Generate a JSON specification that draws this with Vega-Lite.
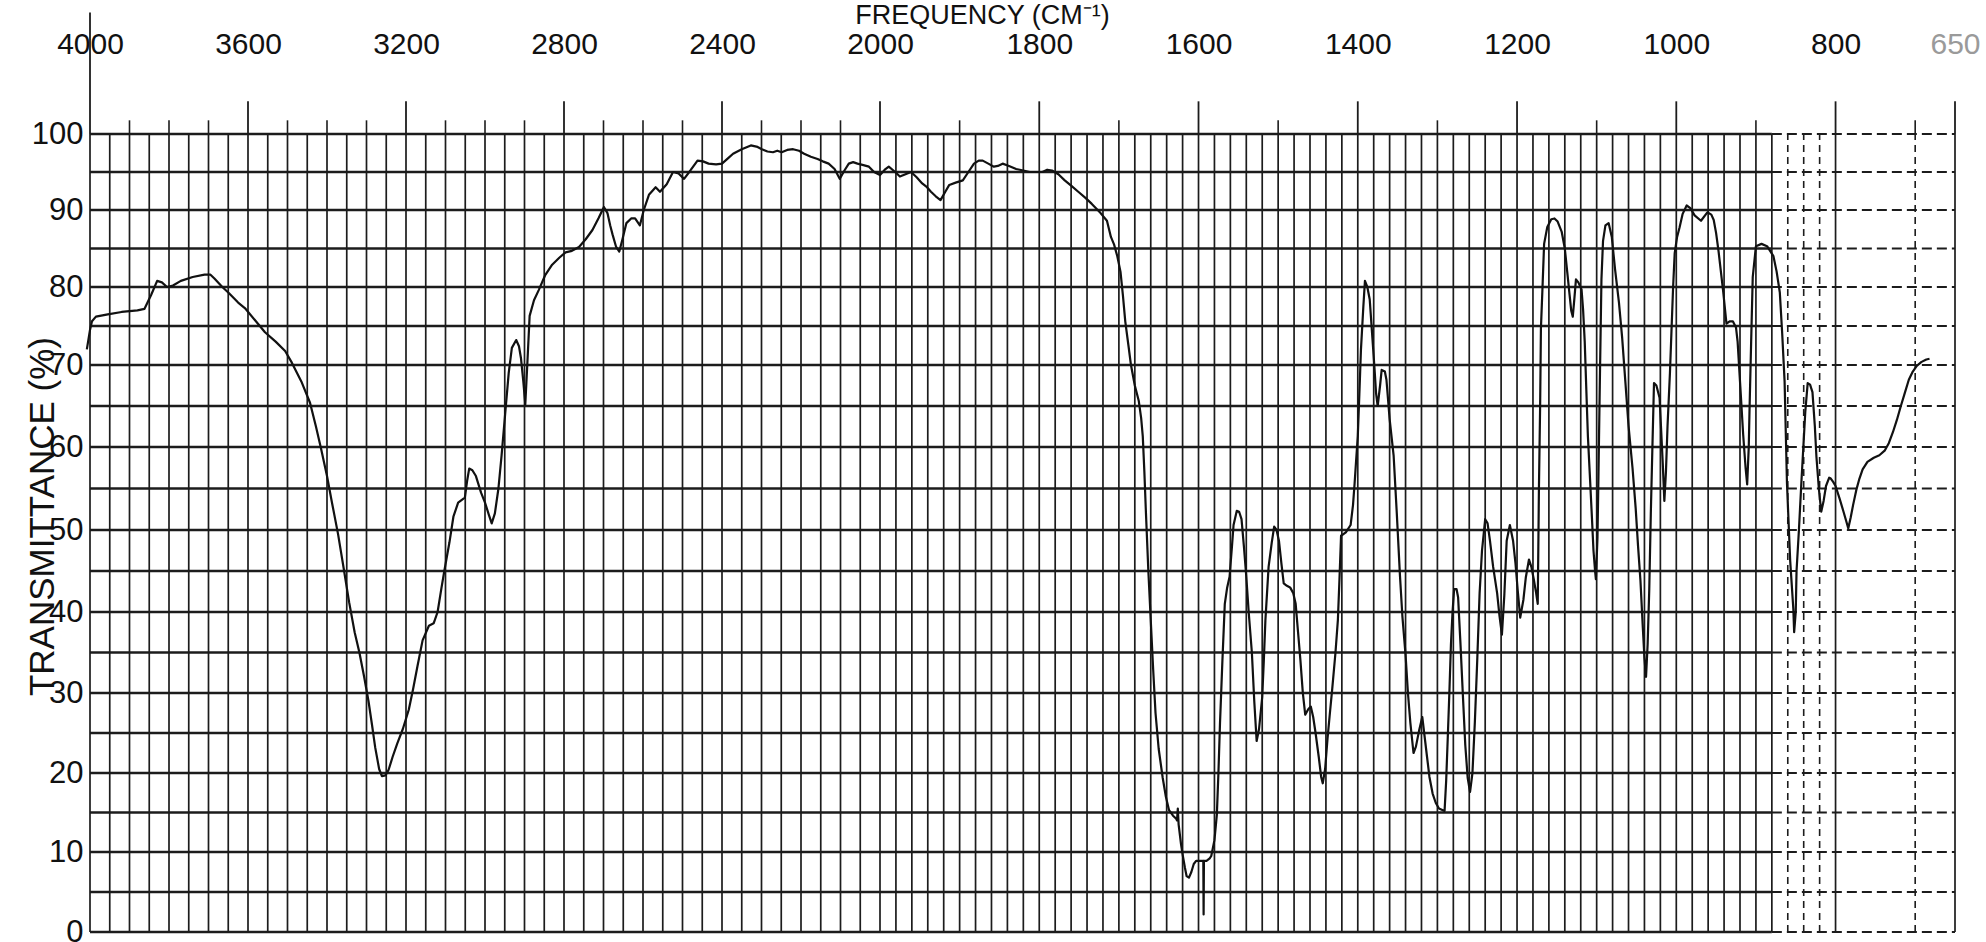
{
  "$schema": "https://vega.github.io/schema/vega-lite/v6.json",
  "width": 1865,
  "height": 798,
  "autosize": {"type": "none"},
  "padding": {"left": 90, "top": 134, "right": 31, "bottom": 10},
  "background": "white",
  "config": {
    "view": {"stroke": null},
    "font": "Liberation Sans",
    "axisX": {
      "orient": "top", "domain": false, "ticks": false, "grid": false, "format": "d",
      "labelPadding": 75, "labelFontSize": 30, "labelFont": "Liberation Sans", "labelFlush": false, "labelOverlap": false,
      "titleFont": "Liberation Sans", "titleFontSize": 27, "titleFontWeight": "normal", "titleColor": "#111111",
      "titleX": 892, "titleY": -119, "titleBaseline": "middle", "titleAlign": "center"
    },
    "axisY": {
      "orient": "left", "domain": false, "ticks": false, "grid": false, "format": "d",
      "labelPadding": 7, "labelFontSize": 31, "labelFont": "Liberation Sans", "labelColor": "#111111",
      "labelFlush": false, "labelOverlap": false,
      "titleFont": "Liberation Sans", "titleFontSize": 35, "titleFontWeight": "normal", "titleColor": "#111111",
      "titleX": -48, "titleY": 382, "titleAngle": -90, "titleBaseline": "middle", "titleAlign": "center"
    }
  },
  "datasets": {
    "hgrid": [
      {"t": 0}, {"t": 5}, {"t": 10}, {"t": 15}, {"t": 20}, {"t": 25}, {"t": 30}, {"t": 35}, {"t": 40}, {"t": 45}, {"t": 50},
      {"t": 55}, {"t": 60}, {"t": 65}, {"t": 70}, {"t": 75}, {"t": 80}, {"t": 85}, {"t": 90}, {"t": 95}, {"t": 100}
    ],
    "vgrid": [
      {"f": 4000}, {"f": 3950}, {"f": 3900}, {"f": 3850}, {"f": 3800}, {"f": 3750}, {"f": 3700}, {"f": 3650}, {"f": 3600}, {"f": 3550},
      {"f": 3500}, {"f": 3450}, {"f": 3400}, {"f": 3350}, {"f": 3300}, {"f": 3250}, {"f": 3200}, {"f": 3150}, {"f": 3100}, {"f": 3050},
      {"f": 3000}, {"f": 2950}, {"f": 2900}, {"f": 2850}, {"f": 2800}, {"f": 2750}, {"f": 2700}, {"f": 2650}, {"f": 2600}, {"f": 2550},
      {"f": 2500}, {"f": 2450}, {"f": 2400}, {"f": 2350}, {"f": 2300}, {"f": 2250}, {"f": 2200}, {"f": 2150}, {"f": 2100}, {"f": 2050},
      {"f": 2000}, {"f": 1980}, {"f": 1960}, {"f": 1940}, {"f": 1920}, {"f": 1900}, {"f": 1880}, {"f": 1860}, {"f": 1840}, {"f": 1820},
      {"f": 1800}, {"f": 1780}, {"f": 1760}, {"f": 1740}, {"f": 1720}, {"f": 1700}, {"f": 1680}, {"f": 1660}, {"f": 1640}, {"f": 1620},
      {"f": 1600}, {"f": 1580}, {"f": 1560}, {"f": 1540}, {"f": 1520}, {"f": 1500}, {"f": 1480}, {"f": 1460}, {"f": 1440}, {"f": 1420},
      {"f": 1400}, {"f": 1380}, {"f": 1360}, {"f": 1340}, {"f": 1320}, {"f": 1300}, {"f": 1280}, {"f": 1260}, {"f": 1240}, {"f": 1220},
      {"f": 1200}, {"f": 1180}, {"f": 1160}, {"f": 1140}, {"f": 1120}, {"f": 1100}, {"f": 1080}, {"f": 1060}, {"f": 1040}, {"f": 1020},
      {"f": 1000}, {"f": 980}, {"f": 960}, {"f": 940}, {"f": 920}, {"f": 900}, {"f": 880}, {"f": 860}, {"f": 840}, {"f": 820},
      {"f": 800}, {"f": 700}, {"f": 650}
    ],
    "ticks": [
      {"f": 4000}, {"f": 3900}, {"f": 3800}, {"f": 3700}, {"f": 3600}, {"f": 3500}, {"f": 3400}, {"f": 3300}, {"f": 3200}, {"f": 3100},
      {"f": 3000}, {"f": 2900}, {"f": 2800}, {"f": 2700}, {"f": 2600}, {"f": 2500}, {"f": 2400}, {"f": 2300}, {"f": 2200}, {"f": 2100},
      {"f": 2000}, {"f": 1900}, {"f": 1800}, {"f": 1700}, {"f": 1600}, {"f": 1500}, {"f": 1400}, {"f": 1300}, {"f": 1200}, {"f": 1100},
      {"f": 1000}, {"f": 900}, {"f": 800}, {"f": 700}, {"f": 650}
    ],
    "spectrum": [
      {"f": 4008, "t": 72}, {"f": 4000, "t": 74.5}, {"f": 3995, "t": 75.6}, {"f": 3985, "t": 76.2}, {"f": 3955, "t": 76.5},
      {"f": 3920, "t": 76.8}, {"f": 3880, "t": 77}, {"f": 3862, "t": 77.2}, {"f": 3845, "t": 79}, {"f": 3830, "t": 80.8},
      {"f": 3818, "t": 80.6}, {"f": 3805, "t": 80}, {"f": 3790, "t": 80.2}, {"f": 3770, "t": 80.8}, {"f": 3740, "t": 81.3},
      {"f": 3710, "t": 81.6}, {"f": 3695, "t": 81.6}, {"f": 3685, "t": 81.1}, {"f": 3665, "t": 80}, {"f": 3648, "t": 79.2},
      {"f": 3625, "t": 78}, {"f": 3608, "t": 77.3}, {"f": 3580, "t": 75.6}, {"f": 3557, "t": 74.2}, {"f": 3530, "t": 73},
      {"f": 3506, "t": 71.8}, {"f": 3489, "t": 70.3}, {"f": 3465, "t": 68}, {"f": 3443, "t": 65.4}, {"f": 3428, "t": 62.5},
      {"f": 3415, "t": 59.8}, {"f": 3400, "t": 56.5}, {"f": 3387, "t": 53.2}, {"f": 3372, "t": 49.5}, {"f": 3358, "t": 45.4},
      {"f": 3344, "t": 41.2}, {"f": 3330, "t": 37.5}, {"f": 3318, "t": 35}, {"f": 3306, "t": 32}, {"f": 3295, "t": 29},
      {"f": 3286, "t": 26}, {"f": 3278, "t": 23.2}, {"f": 3268, "t": 20.5}, {"f": 3261, "t": 19.6}, {"f": 3252, "t": 19.7},
      {"f": 3244, "t": 20.4}, {"f": 3234, "t": 22}, {"f": 3222, "t": 23.7}, {"f": 3208, "t": 25.5}, {"f": 3193, "t": 27.9},
      {"f": 3182, "t": 30.5}, {"f": 3171, "t": 33.3}, {"f": 3158, "t": 36.5}, {"f": 3142, "t": 38.3}, {"f": 3130, "t": 38.6},
      {"f": 3120, "t": 40}, {"f": 3110, "t": 43}, {"f": 3103, "t": 45}, {"f": 3090, "t": 48.5}, {"f": 3080, "t": 51.6},
      {"f": 3068, "t": 53.3}, {"f": 3051, "t": 53.9}, {"f": 3045, "t": 56}, {"f": 3040, "t": 57.4}, {"f": 3032, "t": 57.2},
      {"f": 3023, "t": 56.5}, {"f": 3010, "t": 54.5}, {"f": 3000, "t": 53.3}, {"f": 2990, "t": 51.8}, {"f": 2983, "t": 50.8},
      {"f": 2975, "t": 52}, {"f": 2966, "t": 55}, {"f": 2958, "t": 59}, {"f": 2949, "t": 64}, {"f": 2940, "t": 69},
      {"f": 2932, "t": 72.2}, {"f": 2921, "t": 73.2}, {"f": 2914, "t": 72.4}, {"f": 2909, "t": 70.9}, {"f": 2903, "t": 68},
      {"f": 2898, "t": 65.2}, {"f": 2893, "t": 70}, {"f": 2887, "t": 76.3}, {"f": 2876, "t": 78.3}, {"f": 2864, "t": 79.6},
      {"f": 2848, "t": 81.5}, {"f": 2830, "t": 82.9}, {"f": 2812, "t": 83.8}, {"f": 2796, "t": 84.5}, {"f": 2780, "t": 84.7},
      {"f": 2762, "t": 85.2}, {"f": 2745, "t": 86.2}, {"f": 2728, "t": 87.4}, {"f": 2712, "t": 89}, {"f": 2699, "t": 90.4},
      {"f": 2690, "t": 89.6}, {"f": 2683, "t": 88}, {"f": 2677, "t": 86.8}, {"f": 2668, "t": 85.2}, {"f": 2660, "t": 84.6},
      {"f": 2652, "t": 86.2}, {"f": 2642, "t": 88.3}, {"f": 2630, "t": 88.9}, {"f": 2620, "t": 88.9}, {"f": 2608, "t": 88},
      {"f": 2598, "t": 90}, {"f": 2585, "t": 92}, {"f": 2568, "t": 93}, {"f": 2557, "t": 92.4}, {"f": 2540, "t": 93.4},
      {"f": 2524, "t": 95}, {"f": 2510, "t": 94.8}, {"f": 2496, "t": 94.1}, {"f": 2480, "t": 95.2}, {"f": 2462, "t": 96.5},
      {"f": 2448, "t": 96.4}, {"f": 2434, "t": 96.1}, {"f": 2415, "t": 96}, {"f": 2400, "t": 96.1}, {"f": 2385, "t": 96.8},
      {"f": 2372, "t": 97.4}, {"f": 2350, "t": 98}, {"f": 2327, "t": 98.5}, {"f": 2310, "t": 98.3}, {"f": 2299, "t": 98},
      {"f": 2285, "t": 97.7}, {"f": 2271, "t": 97.6}, {"f": 2260, "t": 97.8}, {"f": 2249, "t": 97.6}, {"f": 2235, "t": 97.9},
      {"f": 2220, "t": 98}, {"f": 2205, "t": 97.8}, {"f": 2192, "t": 97.4}, {"f": 2175, "t": 97}, {"f": 2158, "t": 96.7},
      {"f": 2145, "t": 96.4}, {"f": 2130, "t": 96.1}, {"f": 2115, "t": 95.4}, {"f": 2102, "t": 94.1}, {"f": 2090, "t": 95.2},
      {"f": 2079, "t": 96.1}, {"f": 2068, "t": 96.3}, {"f": 2057, "t": 96.1}, {"f": 2042, "t": 95.9}, {"f": 2028, "t": 95.7},
      {"f": 2015, "t": 95}, {"f": 2000, "t": 94.6}, {"f": 1994, "t": 95.3}, {"f": 1989, "t": 95.7}, {"f": 1982, "t": 95.1},
      {"f": 1975, "t": 94.4}, {"f": 1968, "t": 94.7}, {"f": 1961, "t": 95}, {"f": 1954, "t": 94.3}, {"f": 1947, "t": 93.5},
      {"f": 1941, "t": 93}, {"f": 1936, "t": 92.4}, {"f": 1930, "t": 91.8}, {"f": 1924, "t": 91.3}, {"f": 1918, "t": 92.4},
      {"f": 1913, "t": 93.3}, {"f": 1905, "t": 93.6}, {"f": 1896, "t": 93.9}, {"f": 1889, "t": 95}, {"f": 1882, "t": 96.1},
      {"f": 1876, "t": 96.5}, {"f": 1871, "t": 96.5}, {"f": 1864, "t": 96.1}, {"f": 1857, "t": 95.7}, {"f": 1852, "t": 95.8},
      {"f": 1846, "t": 96.1}, {"f": 1838, "t": 95.8}, {"f": 1829, "t": 95.4}, {"f": 1820, "t": 95.2}, {"f": 1812, "t": 95},
      {"f": 1804, "t": 95}, {"f": 1796, "t": 95}, {"f": 1790, "t": 95.3}, {"f": 1784, "t": 95.2}, {"f": 1776, "t": 94.7},
      {"f": 1768, "t": 93.9}, {"f": 1760, "t": 93.2}, {"f": 1751, "t": 92.4}, {"f": 1742, "t": 91.6}, {"f": 1734, "t": 90.8},
      {"f": 1723, "t": 89.6}, {"f": 1715, "t": 88.6}, {"f": 1710, "t": 86.5}, {"f": 1706, "t": 85.5}, {"f": 1702, "t": 84},
      {"f": 1698, "t": 82}, {"f": 1695, "t": 79}, {"f": 1692, "t": 75.6}, {"f": 1688, "t": 72.5}, {"f": 1685, "t": 70.1},
      {"f": 1680, "t": 67.5}, {"f": 1675, "t": 65.6}, {"f": 1672, "t": 63.5}, {"f": 1670, "t": 61.3}, {"f": 1668, "t": 57},
      {"f": 1666, "t": 52}, {"f": 1663, "t": 45}, {"f": 1660, "t": 39}, {"f": 1657, "t": 33}, {"f": 1654, "t": 27.5},
      {"f": 1650, "t": 23}, {"f": 1645, "t": 19.4}, {"f": 1641, "t": 17}, {"f": 1637, "t": 15.3}, {"f": 1632, "t": 14.6},
      {"f": 1628, "t": 14.2}, {"f": 1627, "t": 14}, {"f": 1626, "t": 15.5}, {"f": 1625, "t": 13.5}, {"f": 1622, "t": 11},
      {"f": 1620, "t": 9.7}, {"f": 1617, "t": 8}, {"f": 1615, "t": 7}, {"f": 1612, "t": 6.8}, {"f": 1609, "t": 7.5},
      {"f": 1606, "t": 8.5}, {"f": 1603, "t": 8.9}, {"f": 1597, "t": 8.9}, {"f": 1594, "t": 8.9}, {"f": 1593.6, "t": 2.2},
      {"f": 1593.2, "t": 8.9}, {"f": 1590, "t": 8.9}, {"f": 1586, "t": 9.2}, {"f": 1584, "t": 9.5}, {"f": 1580, "t": 11.5},
      {"f": 1577, "t": 14.7}, {"f": 1575, "t": 20}, {"f": 1573, "t": 26.3}, {"f": 1570, "t": 34}, {"f": 1567, "t": 41},
      {"f": 1564, "t": 43}, {"f": 1561, "t": 44.3}, {"f": 1558, "t": 48}, {"f": 1556, "t": 50.6}, {"f": 1552, "t": 52.3},
      {"f": 1549, "t": 52.2}, {"f": 1546, "t": 51.3}, {"f": 1543, "t": 48}, {"f": 1540, "t": 44.3}, {"f": 1537, "t": 40},
      {"f": 1533, "t": 35}, {"f": 1530, "t": 29}, {"f": 1527, "t": 24}, {"f": 1524, "t": 25.5}, {"f": 1520, "t": 29.5},
      {"f": 1518, "t": 34}, {"f": 1516, "t": 39}, {"f": 1512, "t": 45.5}, {"f": 1508, "t": 48.5}, {"f": 1505, "t": 50.4},
      {"f": 1502, "t": 50}, {"f": 1499, "t": 48.7}, {"f": 1496, "t": 46}, {"f": 1493, "t": 43.5}, {"f": 1489, "t": 43.2},
      {"f": 1485, "t": 43}, {"f": 1481, "t": 42.3}, {"f": 1478, "t": 41}, {"f": 1475, "t": 37.5}, {"f": 1472, "t": 34},
      {"f": 1469, "t": 30}, {"f": 1466, "t": 27.3}, {"f": 1462, "t": 28}, {"f": 1459, "t": 28.3}, {"f": 1456, "t": 27},
      {"f": 1453, "t": 25}, {"f": 1449, "t": 22}, {"f": 1446, "t": 19.5}, {"f": 1444, "t": 18.7}, {"f": 1441, "t": 20.5},
      {"f": 1438, "t": 24.3}, {"f": 1435, "t": 27.5}, {"f": 1432, "t": 30.6}, {"f": 1428, "t": 35}, {"f": 1425, "t": 39},
      {"f": 1423, "t": 44}, {"f": 1421, "t": 49.3}, {"f": 1415, "t": 49.7}, {"f": 1409, "t": 50.6}, {"f": 1406, "t": 53},
      {"f": 1404, "t": 55.6}, {"f": 1402, "t": 58.5}, {"f": 1400, "t": 61.3}, {"f": 1398, "t": 66.5}, {"f": 1396, "t": 72},
      {"f": 1393, "t": 77.5}, {"f": 1391, "t": 80.8}, {"f": 1388, "t": 80}, {"f": 1385, "t": 78.4}, {"f": 1382, "t": 74},
      {"f": 1379, "t": 69.6}, {"f": 1377, "t": 66.5}, {"f": 1375, "t": 65}, {"f": 1372, "t": 67.5}, {"f": 1370, "t": 69.4},
      {"f": 1366, "t": 69.2}, {"f": 1364, "t": 68.2}, {"f": 1360, "t": 63.4}, {"f": 1355, "t": 59}, {"f": 1351, "t": 52},
      {"f": 1347, "t": 44.4}, {"f": 1344, "t": 39.5}, {"f": 1340, "t": 34.7}, {"f": 1337, "t": 30}, {"f": 1334, "t": 26.3},
      {"f": 1330, "t": 22.5}, {"f": 1327, "t": 23.3}, {"f": 1323, "t": 25.3}, {"f": 1319, "t": 27}, {"f": 1316, "t": 24.5},
      {"f": 1313, "t": 22}, {"f": 1310, "t": 19.5}, {"f": 1306, "t": 17.4}, {"f": 1302, "t": 16.2}, {"f": 1298, "t": 15.5},
      {"f": 1291, "t": 15.2}, {"f": 1289, "t": 19}, {"f": 1287, "t": 24.4}, {"f": 1285, "t": 30}, {"f": 1283, "t": 36},
      {"f": 1281, "t": 40}, {"f": 1279, "t": 42.8}, {"f": 1276, "t": 42.8}, {"f": 1274, "t": 41.8}, {"f": 1271, "t": 36},
      {"f": 1268, "t": 29.7}, {"f": 1265, "t": 23.5}, {"f": 1262, "t": 19.4}, {"f": 1259, "t": 17.6}, {"f": 1256, "t": 20},
      {"f": 1253, "t": 26.3}, {"f": 1250, "t": 34}, {"f": 1247, "t": 42.3}, {"f": 1244, "t": 47.5}, {"f": 1240, "t": 51.3},
      {"f": 1237, "t": 50.8}, {"f": 1234, "t": 48.7}, {"f": 1230, "t": 45.5}, {"f": 1225, "t": 42.3}, {"f": 1222, "t": 39.5},
      {"f": 1219, "t": 37.2}, {"f": 1216, "t": 42}, {"f": 1213, "t": 48.7}, {"f": 1209, "t": 50.6}, {"f": 1205, "t": 48.7},
      {"f": 1202, "t": 46}, {"f": 1199, "t": 42.5}, {"f": 1196, "t": 39.3}, {"f": 1192, "t": 41.5}, {"f": 1189, "t": 44.2},
      {"f": 1185, "t": 46.4}, {"f": 1182, "t": 45.5}, {"f": 1179, "t": 44}, {"f": 1176, "t": 42.3}, {"f": 1174, "t": 41},
      {"f": 1172.5, "t": 55}, {"f": 1171, "t": 65}, {"f": 1170, "t": 74.7}, {"f": 1168, "t": 80}, {"f": 1166, "t": 85.6},
      {"f": 1162, "t": 87.8}, {"f": 1157, "t": 88.8}, {"f": 1153, "t": 88.9}, {"f": 1149, "t": 88.5}, {"f": 1144, "t": 87.2},
      {"f": 1140, "t": 85}, {"f": 1137, "t": 82}, {"f": 1134, "t": 79}, {"f": 1132, "t": 77}, {"f": 1130, "t": 76.2},
      {"f": 1128, "t": 78.5}, {"f": 1126, "t": 81}, {"f": 1123, "t": 80.6}, {"f": 1119, "t": 79.7}, {"f": 1117, "t": 77},
      {"f": 1115, "t": 73}, {"f": 1113, "t": 67}, {"f": 1111, "t": 61.3}, {"f": 1108, "t": 55.5}, {"f": 1106, "t": 51.6},
      {"f": 1104, "t": 47.5}, {"f": 1102, "t": 45}, {"f": 1101, "t": 44}, {"f": 1099, "t": 49}, {"f": 1098, "t": 55},
      {"f": 1096, "t": 68}, {"f": 1094, "t": 81}, {"f": 1092, "t": 86}, {"f": 1089, "t": 88}, {"f": 1085, "t": 88.3},
      {"f": 1081, "t": 86.5}, {"f": 1077, "t": 82.4}, {"f": 1072, "t": 78}, {"f": 1068, "t": 73.5}, {"f": 1064, "t": 68},
      {"f": 1060, "t": 62.6}, {"f": 1055, "t": 57.5}, {"f": 1051, "t": 52.6}, {"f": 1048, "t": 48}, {"f": 1045, "t": 43.8},
      {"f": 1042, "t": 38}, {"f": 1040, "t": 34.3}, {"f": 1038, "t": 32}, {"f": 1036, "t": 36}, {"f": 1034, "t": 42.6},
      {"f": 1032, "t": 52}, {"f": 1030, "t": 60}, {"f": 1028, "t": 67.8}, {"f": 1025, "t": 67.5}, {"f": 1021, "t": 66},
      {"f": 1019, "t": 62}, {"f": 1017, "t": 58}, {"f": 1015, "t": 53.5}, {"f": 1013, "t": 57}, {"f": 1011, "t": 62.6},
      {"f": 1008, "t": 69}, {"f": 1006, "t": 74.5}, {"f": 1004, "t": 80}, {"f": 1002, "t": 84.4}, {"f": 999, "t": 86.5},
      {"f": 996, "t": 87.7}, {"f": 992, "t": 89.5}, {"f": 987, "t": 90.6}, {"f": 982, "t": 90.2}, {"f": 977, "t": 89.3},
      {"f": 969, "t": 88.6}, {"f": 961, "t": 89.7}, {"f": 956, "t": 89.4}, {"f": 953, "t": 88.7}, {"f": 950, "t": 87},
      {"f": 947, "t": 84.7}, {"f": 941, "t": 79.3}, {"f": 937, "t": 75.3}, {"f": 933, "t": 75.6}, {"f": 929, "t": 75.6},
      {"f": 925, "t": 74.8}, {"f": 923, "t": 73}, {"f": 920, "t": 68}, {"f": 916, "t": 61.5}, {"f": 913, "t": 57.5},
      {"f": 911, "t": 55.5}, {"f": 909, "t": 60}, {"f": 908, "t": 64.7}, {"f": 906, "t": 73}, {"f": 904, "t": 81.3},
      {"f": 900, "t": 85.3}, {"f": 893, "t": 85.6}, {"f": 886, "t": 85.3}, {"f": 878, "t": 84}, {"f": 874, "t": 82},
      {"f": 870, "t": 79.3}, {"f": 867, "t": 74}, {"f": 864, "t": 68}, {"f": 861, "t": 55.6}, {"f": 857, "t": 46.3},
      {"f": 853, "t": 40.3}, {"f": 852, "t": 37.5}, {"f": 850, "t": 40}, {"f": 849, "t": 45}, {"f": 846, "t": 50},
      {"f": 843, "t": 55.6}, {"f": 838, "t": 64.3}, {"f": 835, "t": 67.8}, {"f": 832, "t": 67.6}, {"f": 829, "t": 66.7},
      {"f": 826, "t": 62.5}, {"f": 824, "t": 58.8}, {"f": 821, "t": 55}, {"f": 818, "t": 52.2}, {"f": 815, "t": 53.5},
      {"f": 812, "t": 55.3}, {"f": 808, "t": 56.3}, {"f": 806, "t": 56.2}, {"f": 803, "t": 55.8}, {"f": 800, "t": 55.3},
      {"f": 795, "t": 53.8}, {"f": 790, "t": 52.2}, {"f": 787, "t": 51.2}, {"f": 784, "t": 50.2}, {"f": 781, "t": 51.5},
      {"f": 778, "t": 53}, {"f": 774, "t": 54.8}, {"f": 770, "t": 56.2}, {"f": 766, "t": 57.3}, {"f": 760, "t": 58.2},
      {"f": 752, "t": 58.7}, {"f": 745, "t": 59}, {"f": 738, "t": 59.6}, {"f": 733, "t": 60.5}, {"f": 728, "t": 61.8},
      {"f": 723, "t": 63.3}, {"f": 718, "t": 65}, {"f": 713, "t": 66.6}, {"f": 708, "t": 68.2}, {"f": 703, "t": 69.2},
      {"f": 698, "t": 69.9}, {"f": 692, "t": 70.4}, {"f": 686, "t": 70.7}, {"f": 682, "t": 70.8}
    ]
  },
  "layer": [
    {
      "data": {"name": "hgrid"},
      "mark": {"type": "rule", "color": "#1c1c1c", "strokeWidth": 2.4},
      "encoding": {
        "x": {"datum": 4000, "type": "quantitative", "title": "FREQUENCY (CM⁻¹)",
              "scale": {"type": "linear", "domain": [4000, 2000, 650], "range": [0, 790, 1865], "zero": false, "nice": false},
              "axis": {"values": [4000, 3600, 3200, 2800, 2400, 2000, 1800, 1600, 1400, 1200, 1000, 800, 650],
                       "labelColor": {"condition": {"test": "datum.value === 650", "value": "#9a9a9a"}, "value": "#111111"}}},
        "x2": {"datum": 880},
        "y": {"field": "t", "type": "quantitative", "title": "TRANSMITTANCE (%)",
              "scale": {"type": "linear", "domain": [0, 10, 20, 30, 40, 50, 60, 70, 80, 90, 100], "range": [798, 718, 639, 559, 478, 396, 313, 231, 153, 76, 0], "zero": false, "nice": false},
              "axis": {"values": [0, 10, 20, 30, 40, 50, 60, 70, 80, 90, 100]}}
      }
    },
    {
      "data": {"name": "hgrid"},
      "mark": {"type": "rule", "color": "#1c1c1c", "strokeWidth": 2.2, "strokeDash": [10, 5]},
      "encoding": {
        "x": {"datum": 880, "type": "quantitative", "title": "FREQUENCY (CM⁻¹)",
              "scale": {"type": "linear", "domain": [4000, 2000, 650], "range": [0, 790, 1865], "zero": false, "nice": false},
              "axis": {"values": [4000, 3600, 3200, 2800, 2400, 2000, 1800, 1600, 1400, 1200, 1000, 800, 650],
                       "labelColor": {"condition": {"test": "datum.value === 650", "value": "#9a9a9a"}, "value": "#111111"}}},
        "x2": {"datum": 650},
        "y": {"field": "t", "type": "quantitative", "title": "TRANSMITTANCE (%)",
              "scale": {"type": "linear", "domain": [0, 10, 20, 30, 40, 50, 60, 70, 80, 90, 100], "range": [798, 718, 639, 559, 478, 396, 313, 231, 153, 76, 0], "zero": false, "nice": false},
              "axis": {"values": [0, 10, 20, 30, 40, 50, 60, 70, 80, 90, 100]}}
      }
    },
    {
      "data": {"name": "vgrid"},
      "transform": [{"filter": "datum.f >= 880 || datum.f === 800 || datum.f === 650"}],
      "mark": {"type": "rule", "color": "#1c1c1c", "strokeWidth": 1.7},
      "encoding": {
        "x": {"field": "f", "type": "quantitative", "title": "FREQUENCY (CM⁻¹)",
              "scale": {"type": "linear", "domain": [4000, 2000, 650], "range": [0, 790, 1865], "zero": false, "nice": false},
              "axis": {"values": [4000, 3600, 3200, 2800, 2400, 2000, 1800, 1600, 1400, 1200, 1000, 800, 650],
                       "labelColor": {"condition": {"test": "datum.value === 650", "value": "#9a9a9a"}, "value": "#111111"}}},
        "y": {"datum": 0, "type": "quantitative", "title": "TRANSMITTANCE (%)",
              "scale": {"type": "linear", "domain": [0, 10, 20, 30, 40, 50, 60, 70, 80, 90, 100], "range": [798, 718, 639, 559, 478, 396, 313, 231, 153, 76, 0], "zero": false, "nice": false},
              "axis": {"values": [0, 10, 20, 30, 40, 50, 60, 70, 80, 90, 100]}},
        "y2": {"datum": 100}
      }
    },
    {
      "data": {"name": "vgrid"},
      "transform": [{"filter": "(datum.f < 880 && datum.f > 800) || datum.f === 700"}],
      "mark": {"type": "rule", "color": "#1c1c1c", "strokeWidth": 1.6, "strokeDash": [7, 5]},
      "encoding": {
        "x": {"field": "f", "type": "quantitative", "title": "FREQUENCY (CM⁻¹)",
              "scale": {"type": "linear", "domain": [4000, 2000, 650], "range": [0, 790, 1865], "zero": false, "nice": false},
              "axis": {"values": [4000, 3600, 3200, 2800, 2400, 2000, 1800, 1600, 1400, 1200, 1000, 800, 650],
                       "labelColor": {"condition": {"test": "datum.value === 650", "value": "#9a9a9a"}, "value": "#111111"}}},
        "y": {"datum": 0, "type": "quantitative", "title": "TRANSMITTANCE (%)",
              "scale": {"type": "linear", "domain": [0, 10, 20, 30, 40, 50, 60, 70, 80, 90, 100], "range": [798, 718, 639, 559, 478, 396, 313, 231, 153, 76, 0], "zero": false, "nice": false},
              "axis": {"values": [0, 10, 20, 30, 40, 50, 60, 70, 80, 90, 100]}},
        "y2": {"datum": 100}
      }
    },
    {
      "data": {"name": "ticks"},
      "transform": [{"filter": "indexof([3600, 3200, 2800, 2400, 2000, 1800, 1600, 1400, 1200, 1000, 800, 650], datum.f) >= 0"}],
      "mark": {"type": "rule", "color": "#1c1c1c", "strokeWidth": 1.8},
      "encoding": {
        "x": {"field": "f", "type": "quantitative", "title": "FREQUENCY (CM⁻¹)",
              "scale": {"type": "linear", "domain": [4000, 2000, 650], "range": [0, 790, 1865], "zero": false, "nice": false},
              "axis": {"values": [4000, 3600, 3200, 2800, 2400, 2000, 1800, 1600, 1400, 1200, 1000, 800, 650],
                       "labelColor": {"condition": {"test": "datum.value === 650", "value": "#9a9a9a"}, "value": "#111111"}}},
        "y": {"datum": 100, "type": "quantitative", "title": "TRANSMITTANCE (%)",
              "scale": {"type": "linear", "domain": [0, 10, 20, 30, 40, 50, 60, 70, 80, 90, 100], "range": [798, 718, 639, 559, 478, 396, 313, 231, 153, 76, 0], "zero": false, "nice": false},
              "axis": {"values": [0, 10, 20, 30, 40, 50, 60, 70, 80, 90, 100]}},
        "y2": {"datum": 104.3}
      }
    },
    {
      "data": {"name": "ticks"},
      "transform": [{"filter": "indexof([4000, 3600, 3200, 2800, 2400, 2000, 1800, 1600, 1400, 1200, 1000, 800, 650], datum.f) < 0"}],
      "mark": {"type": "rule", "color": "#1c1c1c", "strokeWidth": 1.6},
      "encoding": {
        "x": {"field": "f", "type": "quantitative", "title": "FREQUENCY (CM⁻¹)",
              "scale": {"type": "linear", "domain": [4000, 2000, 650], "range": [0, 790, 1865], "zero": false, "nice": false},
              "axis": {"values": [4000, 3600, 3200, 2800, 2400, 2000, 1800, 1600, 1400, 1200, 1000, 800, 650],
                       "labelColor": {"condition": {"test": "datum.value === 650", "value": "#9a9a9a"}, "value": "#111111"}}},
        "y": {"datum": 100, "type": "quantitative", "title": "TRANSMITTANCE (%)",
              "scale": {"type": "linear", "domain": [0, 10, 20, 30, 40, 50, 60, 70, 80, 90, 100], "range": [798, 718, 639, 559, 478, 396, 313, 231, 153, 76, 0], "zero": false, "nice": false},
              "axis": {"values": [0, 10, 20, 30, 40, 50, 60, 70, 80, 90, 100]}},
        "y2": {"datum": 101.8}
      }
    },
    {
      "data": {"name": "ticks"},
      "transform": [{"filter": "datum.f === 4000"}],
      "mark": {"type": "rule", "color": "#1c1c1c", "strokeWidth": 1.8},
      "encoding": {
        "x": {"field": "f", "type": "quantitative", "title": "FREQUENCY (CM⁻¹)",
              "scale": {"type": "linear", "domain": [4000, 2000, 650], "range": [0, 790, 1865], "zero": false, "nice": false},
              "axis": {"values": [4000, 3600, 3200, 2800, 2400, 2000, 1800, 1600, 1400, 1200, 1000, 800, 650],
                       "labelColor": {"condition": {"test": "datum.value === 650", "value": "#9a9a9a"}, "value": "#111111"}}},
        "y": {"datum": 100, "type": "quantitative", "title": "TRANSMITTANCE (%)",
              "scale": {"type": "linear", "domain": [0, 10, 20, 30, 40, 50, 60, 70, 80, 90, 100], "range": [798, 718, 639, 559, 478, 396, 313, 231, 153, 76, 0], "zero": false, "nice": false},
              "axis": {"values": [0, 10, 20, 30, 40, 50, 60, 70, 80, 90, 100]}},
        "y2": {"datum": 116}
      }
    },
    {
      "data": {"name": "spectrum"},
      "mark": {"type": "line", "color": "#111111", "strokeWidth": 2.2, "strokeJoin": "round"},
      "encoding": {
        "x": {"field": "f", "type": "quantitative", "title": "FREQUENCY (CM⁻¹)",
              "scale": {"type": "linear", "domain": [4000, 2000, 650], "range": [0, 790, 1865], "zero": false, "nice": false},
              "axis": {"values": [4000, 3600, 3200, 2800, 2400, 2000, 1800, 1600, 1400, 1200, 1000, 800, 650],
                       "labelColor": {"condition": {"test": "datum.value === 650", "value": "#9a9a9a"}, "value": "#111111"}}},
        "y": {"field": "t", "type": "quantitative", "title": "TRANSMITTANCE (%)",
              "scale": {"type": "linear", "domain": [0, 10, 20, 30, 40, 50, 60, 70, 80, 90, 100], "range": [798, 718, 639, 559, 478, 396, 313, 231, 153, 76, 0], "zero": false, "nice": false},
              "axis": {"values": [0, 10, 20, 30, 40, 50, 60, 70, 80, 90, 100]}}
      }
    }
  ]
}
